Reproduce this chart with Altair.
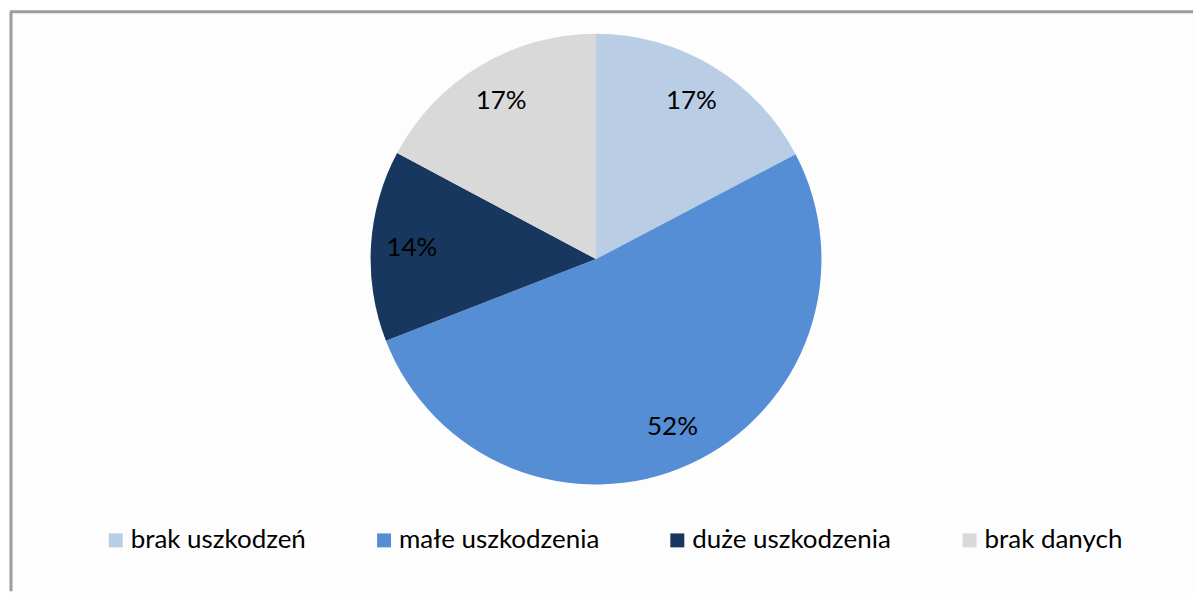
import altair as alt
import pandas as pd

categories = ["brak uszkodzeń", "małe uszkodzenia", "duże uszkodzenia", "brak danych"]
values = [17.3, 51.8, 13.7, 17.2]
labels = ["17%", "52%", "14%", "17%"]
colors = ["#B9CDE5", "#558ED5", "#17375E", "#D9D9D9"]
order = [1, 2, 3, 4]

df = pd.DataFrame({"category": categories, "value": values, "label": labels, "order": order})

W, H = 1177, 502
FONT = "Lato"

base = alt.Chart(df).encode(
    theta=alt.Theta("value:Q", stack=True),
    order=alt.Order("order:Q", sort="ascending"),
)

pie = base.mark_arc(outerRadius=226, stroke=None).encode(
    color=alt.Color(
        "category:N",
        scale=alt.Scale(domain=categories, range=colors),
        sort=categories,
        legend=alt.Legend(
            title=None,
            orient="none",
            legendX=94,
            legendY=520,
            direction="horizontal",
            symbolType="square",
            symbolSize=196,
            symbolStrokeWidth=0,
            labelFont=FONT,
            labelFontSize=26,
            labelColor="#000000",
            labelOffset=2,
            columnPadding=65,
            labelLimit=400,
        ),
    )
)

text = base.mark_text(radius=185, font=FONT, fontSize=26, color="#000000").encode(
    text="label:N"
)

one = alt.Data(values=[{"a": 1}])
left_rule = alt.Chart(one).mark_rule(color="#9c9c9c", strokeWidth=3).encode(
    x=alt.value(2), y=alt.value(3), y2=alt.value(584)
)
top_rule = alt.Chart(one).mark_rule(color="#9c9c9c", strokeWidth=3).encode(
    x=alt.value(1), x2=alt.value(1187), y=alt.value(3)
)

chart = alt.layer(pie, text, left_rule, top_rule).properties(
    width=W, height=H, padding=0, background="#fdfdfd"
).configure_view(stroke=None)

chart.save("out.html", embed_options={"renderer": "svg", "actions": False})
